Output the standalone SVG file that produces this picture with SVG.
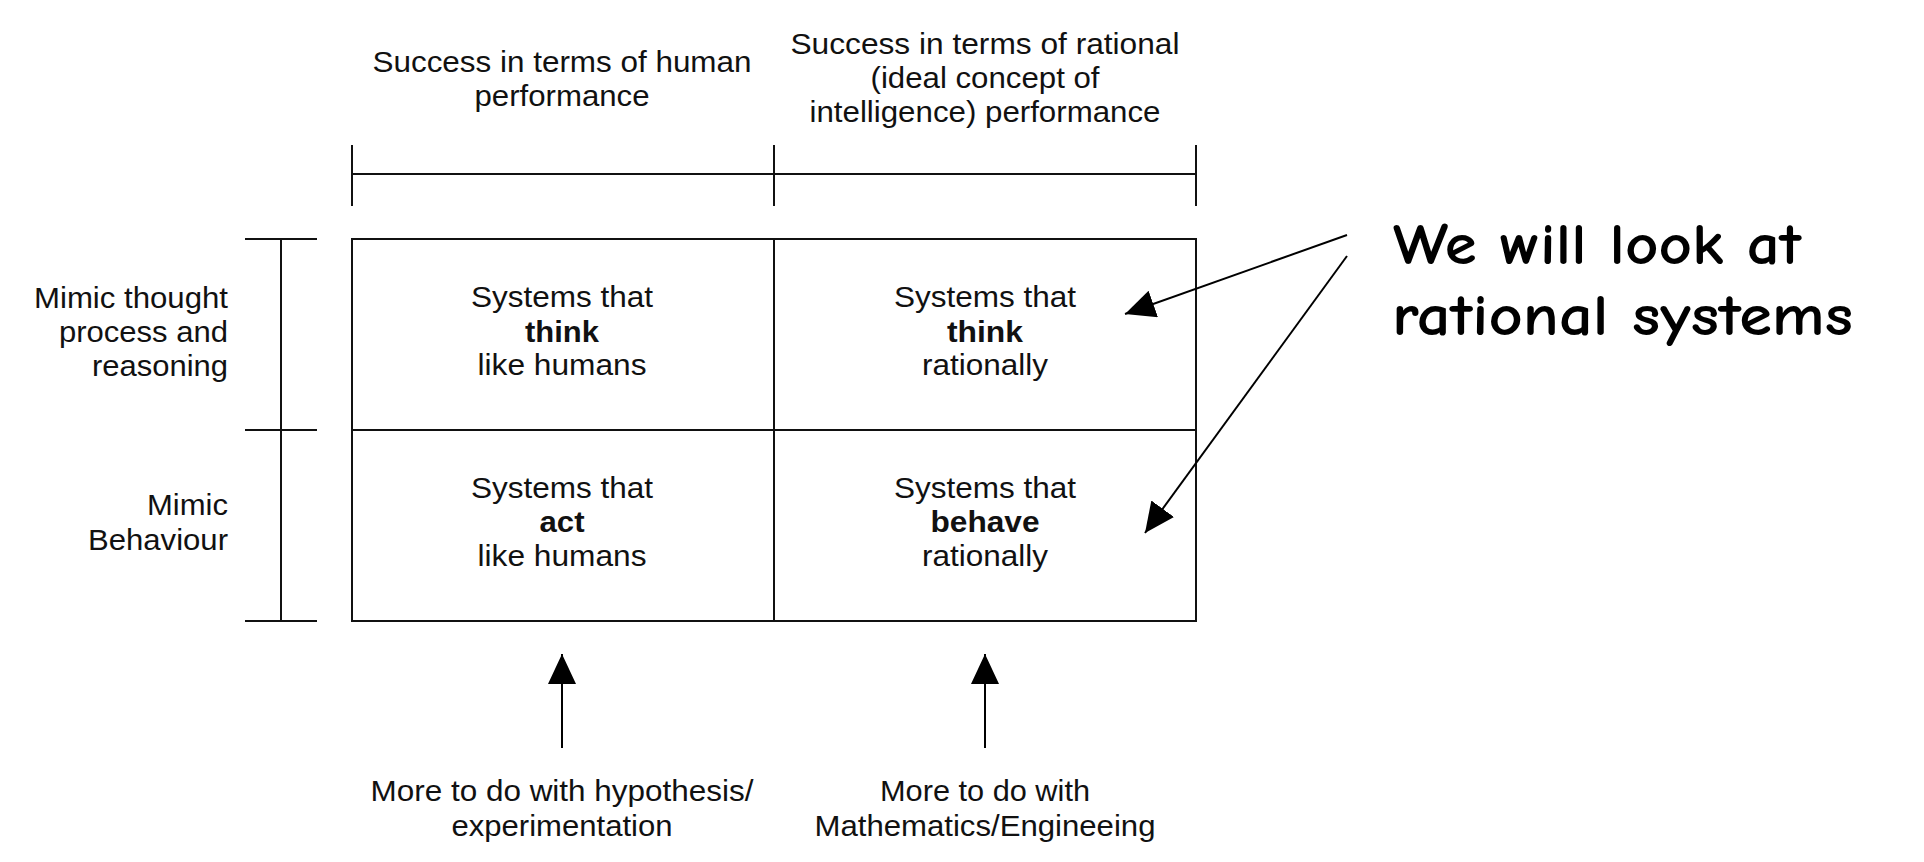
<svg xmlns="http://www.w3.org/2000/svg" width="1924" height="862" viewBox="0 0 1924 862">
<style>
.t{font-family:"Liberation Sans Narrow","Liberation Sans",Arial,sans-serif;font-size:30px;fill:#111;text-anchor:middle}
.b{font-weight:bold}
.r{text-anchor:end}
.big{font-family:"Comic Sans MS","Comic Neue","DejaVu Sans",sans-serif;font-size:58px;font-weight:bold;fill:#000}
.ln{stroke:#111;stroke-width:2;fill:none}
</style>
<defs>
<marker id="ah" viewBox="0 0 30 28" refX="30" refY="14" markerWidth="30" markerHeight="28" markerUnits="userSpaceOnUse" orient="auto">
<path d="M0,0 L30,14 L0,28 Z" fill="#000"/>
</marker>
</defs>
<rect width="1924" height="862" fill="#fff"/>
<g id="header-human">
<text class="t" x="562" y="72" textLength="379" lengthAdjust="spacingAndGlyphs">Success in terms of human</text>
<text class="t" x="562" y="106" textLength="175" lengthAdjust="spacingAndGlyphs">performance</text>
</g>
<g id="header-rational">
<text class="t" x="985" y="54" textLength="389" lengthAdjust="spacingAndGlyphs">Success in terms of rational</text>
<text class="t" x="985" y="88" textLength="229" lengthAdjust="spacingAndGlyphs">(ideal concept of</text>
<text class="t" x="985" y="122" textLength="351" lengthAdjust="spacingAndGlyphs">intelligence) performance</text>
</g>
<g id="top-bracket" class="ln">
<line x1="352" y1="145" x2="352" y2="206"/>
<line x1="774" y1="145" x2="774" y2="206"/>
<line x1="1196" y1="145" x2="1196" y2="206"/>
<line x1="352" y1="174" x2="1196" y2="174"/>
</g>
<g id="left-bracket" class="ln">
<line x1="281" y1="239" x2="281" y2="621"/>
<line x1="245" y1="239" x2="317" y2="239"/>
<line x1="245" y1="430" x2="317" y2="430"/>
<line x1="245" y1="621" x2="317" y2="621"/>
</g>
<g id="label-thought">
<text class="t r" x="228" y="308" textLength="194" lengthAdjust="spacingAndGlyphs">Mimic thought</text>
<text class="t r" x="228" y="342" textLength="169" lengthAdjust="spacingAndGlyphs">process and</text>
<text class="t r" x="228" y="376" textLength="136" lengthAdjust="spacingAndGlyphs">reasoning</text>
</g>
<g id="label-behaviour">
<text class="t r" x="228" y="515" textLength="81" lengthAdjust="spacingAndGlyphs">Mimic</text>
<text class="t r" x="228" y="550" textLength="140" lengthAdjust="spacingAndGlyphs">Behaviour</text>
</g>
<g id="grid" class="ln">
<rect x="352" y="239" width="844" height="382"/>
<line x1="774" y1="239" x2="774" y2="621"/>
<line x1="352" y1="430" x2="1196" y2="430"/>
</g>
<g id="cell-think-human">
<text class="t" x="562" y="307" textLength="182" lengthAdjust="spacingAndGlyphs">Systems that</text>
<text class="t b" x="562" y="342" textLength="74" lengthAdjust="spacingAndGlyphs">think</text>
<text class="t" x="562" y="375" textLength="169" lengthAdjust="spacingAndGlyphs">like humans</text>
</g>
<g id="cell-think-rational">
<text class="t" x="985" y="307" textLength="182" lengthAdjust="spacingAndGlyphs">Systems that</text>
<text class="t b" x="985" y="342" textLength="76" lengthAdjust="spacingAndGlyphs">think</text>
<text class="t" x="985" y="375" textLength="126" lengthAdjust="spacingAndGlyphs">rationally</text>
</g>
<g id="cell-act-human">
<text class="t" x="562" y="498" textLength="182" lengthAdjust="spacingAndGlyphs">Systems that</text>
<text class="t b" x="562" y="532" textLength="45" lengthAdjust="spacingAndGlyphs">act</text>
<text class="t" x="562" y="566" textLength="169" lengthAdjust="spacingAndGlyphs">like humans</text>
</g>
<g id="cell-behave-rational">
<text class="t" x="985" y="498" textLength="182" lengthAdjust="spacingAndGlyphs">Systems that</text>
<text class="t b" x="985" y="532" textLength="109" lengthAdjust="spacingAndGlyphs">behave</text>
<text class="t" x="985" y="566" textLength="126" lengthAdjust="spacingAndGlyphs">rationally</text>
</g>
<g id="note-hypothesis">
<text class="t" x="562" y="801" textLength="383" lengthAdjust="spacingAndGlyphs">More to do with hypothesis/</text>
<text class="t" x="562" y="836" textLength="221" lengthAdjust="spacingAndGlyphs">experimentation</text>
</g>
<g id="note-math">
<text class="t" x="985" y="801" textLength="210" lengthAdjust="spacingAndGlyphs">More to do with</text>
<text class="t" x="985" y="836" textLength="341" lengthAdjust="spacingAndGlyphs">Mathematics/Engineeing</text>
</g>
<g id="callout">
<text class="big" x="1393" y="264" textLength="408" lengthAdjust="spacingAndGlyphs">We will look at</text>
<text class="big" x="1392" y="335" textLength="461" lengthAdjust="spacingAndGlyphs">rational systems</text>
</g>
<g id="connectors" stroke="#000" stroke-width="2" fill="none">
<line x1="562" y1="748" x2="562" y2="654" marker-end="url(#ah)"/>
<line x1="985" y1="748" x2="985" y2="654" marker-end="url(#ah)"/>
<line x1="1347" y1="235" x2="1125" y2="314" marker-end="url(#ah)"/>
<line x1="1347" y1="256" x2="1145" y2="533" marker-end="url(#ah)"/>
</g>
</svg>
